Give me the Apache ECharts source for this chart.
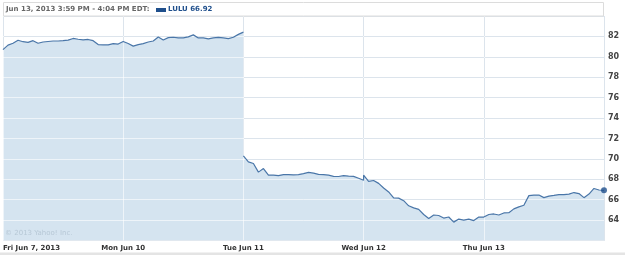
<!DOCTYPE html>
<html><head><meta charset="utf-8">
<script src="https://cdn.jsdelivr.net/npm/echarts@6/dist/echarts.min.js"></script>
<style>html,body{margin:0;padding:0;background:#fff}#c{width:625px;height:255px}</style>
</head><body><div id="c"></div>
<script>
// ---- data ----
const headerText = 'Jun 13, 2013 3:59 PM - 4:04 PM EDT:';
const legendText = 'LULU 66.92';
const watermark = '© 2013 Yahoo! Inc.';
const xLabels = ['Fri Jun 7, 2013', 'Mon Jun 10', 'Tue Jun 11', 'Wed Jun 12', 'Thu Jun 13'];
const yTicks = [64, 66, 68, 70, 72, 74, 76, 78, 80, 82];
const yMin = 62, yMax = 84;
const lastPrice = 66.92;
const fri7 = [80.7,81.15,81.33,81.62,81.48,81.42,81.58,81.33,81.45,81.5,81.55,81.55,81.58,81.63,81.8,81.72,81.66,81.7,81.58,81.2,81.17,81.17,81.3,81.25,81.5];
const mon10 = [81.5,81.3,81.05,81.2,81.3,81.45,81.55,81.95,81.65,81.88,81.92,81.85,81.85,81.95,82.15,81.85,81.85,81.75,81.85,81.9,81.85,81.78,81.92,82.2,82.42];
const tue11 = [70.3,69.7,69.55,68.7,69.05,68.4,68.4,68.35,68.46,68.45,68.43,68.45,68.55,68.68,68.6,68.48,68.46,68.4,68.28,68.27,68.36,68.3,68.28,68.1,67.9];
const wed12 = [68.4,67.8,67.88,67.6,67.15,66.76,66.17,66.15,65.9,65.4,65.2,65.05,64.55,64.15,64.5,64.45,64.2,64.3,63.8,64.1,64.0,64.1,63.95,64.3,64.3];
const thu13 = [64.35,64.55,64.6,64.5,64.7,64.72,65.1,65.3,65.45,66.4,66.45,66.45,66.2,66.35,66.42,66.5,66.5,66.55,66.7,66.6,66.2,66.55,67.1,66.95,66.92];
const days = [fri7, mon10, tue11, wed12, thu13];
const gapAfterDay = [false, true, false, false, false];

// ---- build series data (x = trading-day index + fraction of day) ----
const areaData = [], lineData = [];
days.forEach((arr, d) => {
  arr.forEach((v, i) => {
    const x = d + i / (arr.length - 1);
    areaData.push([x, v]);
    lineData.push([x, v]);
  });
  if (gapAfterDay[d]) lineData.push([d + 1, null]);
});
const lastPoint = lineData[lineData.length - 1];

const FONT = 'DejaVu Sans';
const gridPos = {left: 3, right: 21, top: 16, bottom: 14.5};
const chart = echarts.init(document.getElementById('c'), null, {renderer: 'canvas'});
chart.setOption({
  animation: false,
  backgroundColor: '#ffffff',
  grid: [Object.assign({}, gridPos), Object.assign({}, gridPos)],
  xAxis: [
    {type: 'value', gridIndex: 0, min: 0, max: 5, interval: 1,
     axisLine: {show: false}, axisTick: {show: false},
     splitLine: {show: true, lineStyle: {color: '#a7bbcf', width: 1}},
     axisLabel: {show: true, margin: 4, fontFamily: FONT, fontSize: 7, fontWeight: 'bold', color: '#333',
       alignMinLabel: 'left', showMaxLabel: false,
       formatter: v => xLabels[Math.round(v)] || ''}},
    {type: 'value', gridIndex: 1, min: 0, max: 5, interval: 1, z: 10,
     axisLine: {show: false}, axisTick: {show: false}, axisLabel: {show: false},
     splitLine: {show: true, lineStyle: {color: 'rgba(255,255,255,0.6)', width: 1}}}
  ],
  yAxis: [
    {type: 'value', gridIndex: 0, position: 'right', min: yMin, max: yMax, interval: 2,
     axisLine: {show: false}, axisTick: {show: false},
     splitLine: {show: true, lineStyle: {color: '#a7bbcf', width: 1}},
     axisLabel: {show: true, margin: 4, fontFamily: FONT, fontSize: 8, fontWeight: 'bold', color: '#444',
       formatter: v => yTicks.indexOf(v) >= 0 ? String(v) : ''}},
    {type: 'value', gridIndex: 1, position: 'right', min: yMin, max: yMax, interval: 2, z: 10,
     axisLine: {show: false}, axisTick: {show: false}, axisLabel: {show: false},
     splitLine: {show: true, lineStyle: {color: 'rgba(255,255,255,0.6)', width: 1}}}
  ],
  series: [
    {type: 'line', xAxisIndex: 0, yAxisIndex: 0, data: areaData, showSymbol: false, z: 2,
     lineStyle: {width: 0, opacity: 0}, areaStyle: {color: '#d5e4f0', opacity: 1, origin: 'start'}},
    {type: 'line', xAxisIndex: 0, yAxisIndex: 0, data: lineData, showSymbol: false, z: 20,
     connectNulls: false, lineStyle: {color: '#4a76a8', width: 1.2}},
    {type: 'scatter', xAxisIndex: 0, yAxisIndex: 0, data: [[lastPoint[0], lastPrice]], z: 21,
     symbolSize: 6, itemStyle: {color: '#1f4f8c'}}
  ],
  graphic: [
    {type: 'rect', z: 30, shape: {x: 3.5, y: 2.5, width: 600, height: 13.5}, style: {fill: '#fff', stroke: '#dcdcdc', lineWidth: 1}},
    {type: 'text', z: 31, x: 6, y: 9.5, style: {text: headerText, fontFamily: FONT, fontSize: 7, fontWeight: 'bold', fill: '#666', verticalAlign: 'middle'}},
    {type: 'rect', z: 31, shape: {x: 156, y: 8, width: 10, height: 4}, style: {fill: '#1f4f8c'}},
    {type: 'text', z: 31, x: 168, y: 9.5, style: {text: legendText, fontFamily: FONT, fontSize: 7, fontWeight: 'bold', fill: '#1f4f8c', verticalAlign: 'middle'}},
    {type: 'text', z: 31, x: 5, y: 233, style: {text: watermark, fontFamily: FONT, fontSize: 7, fill: '#b7c8d6', verticalAlign: 'middle'}},
    {type: 'rect', z: 31, shape: {x: 0, y: 252.5, width: 625, height: 3}, style: {fill: '#e4e4e4'}}
  ]
});
</script></body></html>
